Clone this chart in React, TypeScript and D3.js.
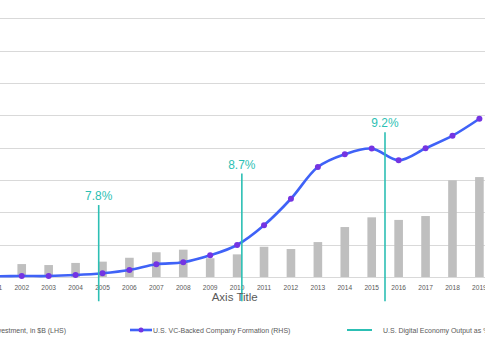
import * as d3 from "d3";
import React from "react";

// categories
const years = [
	"2001", "2002", "2003", "2004", "2005", "2006", "2007", "2008", "2009", "2010",
	"2011", "2012", "2013", "2014", "2015", "2016", "2017", "2018", "2019",
];
// U.S. VC investment, $B (LHS)
const vcInvestment = [
	16, 16, 14.8, 17.4, 19, 23.8, 30.6, 33.8, 23.2, 28, 37.4, 34.6, 43.2, 61.8,
	73.8, 70.6, 75.4, 119.6, 123.6,
];
// U.S. VC-backed company formation (RHS)
const companyFormation = [
	40, 60, 60, 120, 230, 430, 790, 910, 1340, 1980, 3200, 4840, 6800, 7590, 7940,
	7220, 7960, 8740, 9790,
];
// U.S. digital economy output markers
const digitalYears = [2005, 2010, 2015];
const digitalLabels = ["7.8%", "8.7%", "9.2%"];
const digitalTop = [89, 128, 179];
const digitalBottom = -30;

const W = 485;
const H = 360;
const leftTicks = d3.range(0, 321, 40);

const TEAL = "#2cbfb4";
const BLUE = "#3f62f7";
const PURPLE = "#7434e2";
const TEXT = "#595959";

const Squish = ({
	x,
	y,
	k,
	size,
	anchor = "middle",
	fill = TEXT,
	children,
}: {
	x: number;
	y: number;
	k: number;
	size: number;
	anchor?: string;
	fill?: string;
	children: React.ReactNode;
}) => (
	<text
		transform={`translate(${x},${y}) scale(${k},1)`}
		fontSize={size}
		textAnchor={anchor}
		fill={fill}
		fontFamily="'Liberation Sans', Arial, sans-serif"
	>
		{children}
	</text>
);

const App = () => {
	const x = d3.scalePoint<string>().domain(years).range([-5.2, 479.4]);
	const step = x.step();
	const barW = step * 0.32;
	const yL = d3.scaleLinear().domain([0, 320]).range([277, 18.3]);
	const yR = d3.scaleLinear().domain([0, 16000]).range([277, 18.3]);
	const x2 = d3.scaleLinear().domain([2005, 2015]).range([98.7, 385]);

	const line = d3
		.line<number>()
		.x((_, i) => x(years[i])!)
		.y((d) => yR(d))
		.curve(d3.curveCatmullRom.alpha(0.5));

	return (
		<svg
			width={W}
			height={H}
			style={{ position: "absolute", left: 0, top: 0, background: "#fff" }}
		>
			{leftTicks.map((t) => (
				<line
					key={t}
					x1={0}
					x2={W}
					y1={Math.round(yL(t)) + 0.5}
					y2={Math.round(yL(t)) + 0.5}
					stroke="#d9d9d9"
					strokeWidth={1}
				/>
			))}

			{vcInvestment.map((v, i) => (
				<rect
					key={years[i]}
					x={x(years[i])! - barW / 2}
					y={yL(v)}
					width={barW}
					height={yL(0) - yL(v)}
					fill="#bfbfbf"
				/>
			))}

			{years.map((yr) => (
				<Squish key={yr} x={x(yr)!} y={290} k={0.88} size={7.5}>
					{yr}
				</Squish>
			))}

			<path d={line(companyFormation) ?? ""} fill="none" stroke={BLUE} strokeWidth={2.6} />
			{companyFormation.map((v, i) => (
				<circle key={years[i]} cx={x(years[i])} cy={yR(v)} r={3} fill={PURPLE} />
			))}

			{digitalYears.map((yr, i) => (
				<g key={yr}>
					<line
						x1={x2(yr)}
						x2={x2(yr)}
						y1={yL(digitalTop[i])}
						y2={yL(digitalBottom)}
						stroke={TEAL}
						strokeWidth={1.6}
					/>
					<Squish x={x2(yr)} y={yL(digitalTop[i]) - 5} k={0.92} size={13} fill={TEAL}>
						{digitalLabels[i]}
					</Squish>
				</g>
			))}

			<text
				x={234.7}
				y={301}
				fontSize={11.5}
				textAnchor="middle"
				fill={TEXT}
				fontFamily="'Liberation Sans', Arial, sans-serif"
			>
				Axis Title
			</text>

			{/* legend */}
			<Squish x={66} y={333} k={0.875} size={8} anchor="end">
				U.S. VC Investment, in $B (LHS)
			</Squish>
			<line x1={130} x2={152} y1={330} y2={330} stroke={BLUE} strokeWidth={2.6} />
			<circle cx={141} cy={330} r={2.5} fill={PURPLE} />
			<Squish x={153} y={333} k={0.875} size={8} anchor="start">
				U.S. VC-Backed Company Formation (RHS)
			</Squish>
			<line x1={347} x2={372} y1={330} y2={330} stroke={TEAL} strokeWidth={2} />
			<Squish x={383} y={333} k={0.875} size={8} anchor="start">
				U.S. Digital Economy Output as % of GDP
			</Squish>
		</svg>
	);
};

export default App;
